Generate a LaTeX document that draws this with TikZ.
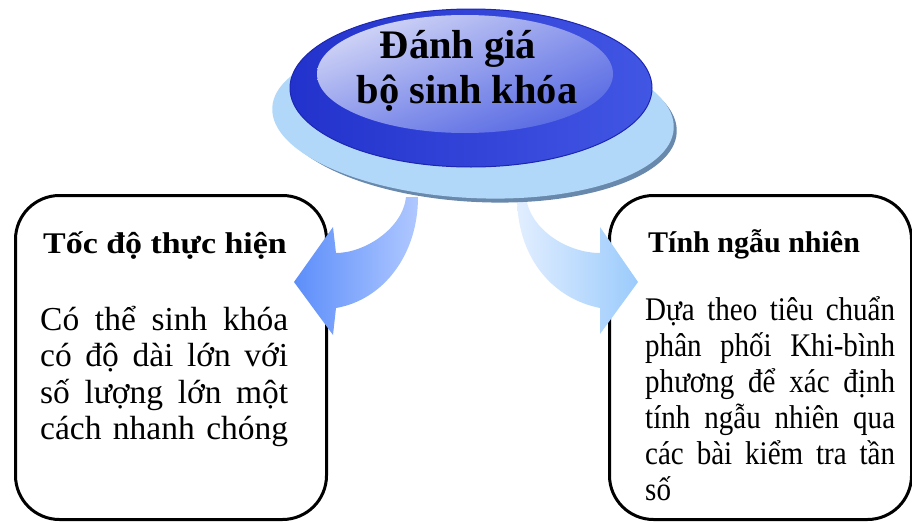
\documentclass[tikz,border=0pt]{standalone}
\usepackage{fontspec}
\setmainfont{Liberation Serif}
\usepackage{graphicx}
\usetikzlibrary{shadings}
\definecolor{baselight}{RGB}{178,216,249}
\definecolor{baserim}{RGB}{104,136,172}
\definecolor{ringdark}{RGB}{34,50,204}
\definecolor{ringlight}{RGB}{66,86,228}
\definecolor{ringedge}{RGB}{28,38,178}
\definecolor{capTop}{RGB}{230,232,249}
\definecolor{capMid}{RGB}{140,152,236}
\definecolor{capBot}{RGB}{70,90,224}
\definecolor{arrLtip}{RGB}{92,142,250}
\definecolor{arrLtail}{RGB}{176,200,255}
\definecolor{arrRpale}{RGB}{226,238,255}
\definecolor{arrRtip}{RGB}{155,203,252}
\newcommand\headfont{\fontsize{40.5pt}{45pt}\selectfont\bfseries}
\newcommand\titlefont{\fontsize{30pt}{34pt}\selectfont\bfseries}
\newcommand\leftbodyfont{\fontsize{33.5pt}{36.5pt}\selectfont}
\newcommand\rightbodyfont{\fontsize{33pt}{36pt}\selectfont}
\newcommand\jline[1]{\hbox to\hsize{#1}}
\begin{document}
\begin{tikzpicture}[x=1pt,y=-1pt,
  panel/.style={draw=black, line width=3pt, rounded corners=44pt, fill=white,
    anchor=north west, inner sep=0pt, minimum height=324pt},
  label/.style={anchor=base west, inner sep=0pt},
]
\useasboundingbox (0,0) rectangle (912,522);

% the two rounded panels
\node[panel, minimum width=311pt] (speed) at (14,194) {};
\node[panel, minimum width=302pt] (random) at (608,194) {};

% curved block arrows leaving the hub
\shade[left color=arrLtip, right color=arrLtail]
  (406,197) .. controls (403,228) and (365,253) .. (336,253)
  -- (333,227) -- (294,282) -- (333,335) -- (336,308)
  .. controls (383,300) and (418,255) .. (418,197) -- cycle;
\shade[left color=arrRpale, right color=arrRtip]
  (526,197) .. controls (530,230) and (568,253) .. (600,253)
  -- (600,227) -- (638,282) -- (600,334) -- (600,308)
  .. controls (550,298) and (517,255) .. (517,197) -- cycle;

% hub: tilted base plate, blue ring and glossy cap
\fill[baserim, rotate around={-3:(478,122)}] (478,122) ellipse [x radius=199, y radius=80];
\fill[baselight, rotate around={-3:(473,118)}] (473,118) ellipse [x radius=201, y radius=80];
\shade[left color=ringdark, right color=ringlight, draw=ringedge, line width=1pt]
  (471,88) ellipse [x radius=181, y radius=79];
\shade[upper left=capTop, upper right=capMid, lower left=capMid, lower right=capBot]
  (465,74) ellipse [x radius=148, y radius=59];

\node[anchor=base, inner sep=0pt, font=\headfont] (hub) at (467,58)
  {\begin{tabular}[t]{@{}c@{}}Đánh giá\kern18pt\\ bộ sinh khóa\end{tabular}};

% left panel text
\node[label, font=\titlefont] (speedtitle) at (43,253)
  {\scalebox{1.13}[1]{Tốc độ thực hiện}};
\node[label, font=\leftbodyfont] (speedtext) at (40,330)
  {\vtop{\hsize=248pt
    \jline{Có thể sinh khóa}
    \jline{có độ dài lớn với}
    \jline{số lượng lớn một}
    \jline{cách nhanh chóng}}};

% right panel text
\node[label, font=\titlefont] (randomtitle) at (648,252) {Tính ngẫu nhiên};
\node[label, font=\rightbodyfont] (randomtext) at (645,320)
  {\scalebox{0.88}[1]{\vtop{\hsize=284pt
    \jline{Dựa theo tiêu chuẩn}
    \jline{phân phối Khi-bình}
    \jline{phương để xác định}
    \jline{tính ngẫu nhiên qua}
    \jline{các bài kiểm tra tần}
    \jline{số\hfil}}}};
\end{tikzpicture}
\end{document}
